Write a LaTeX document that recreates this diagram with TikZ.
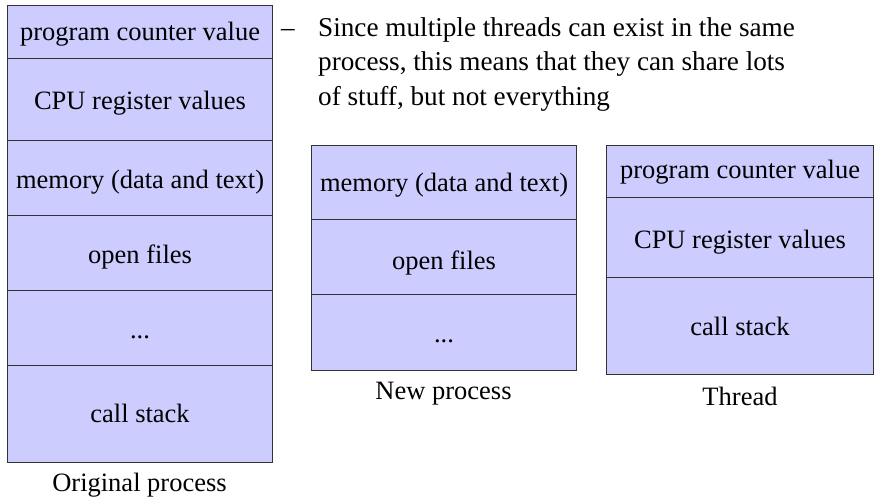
\documentclass[tikz,border=0pt]{standalone}
\usepackage{fontspec}
\setmainfont{Liberation Serif}
\definecolor{cellfill}{HTML}{CCCCFF}
\definecolor{cellline}{HTML}{333333}
\tikzset{
  cell/.style={draw=cellline, fill=cellfill, line width=1.1pt, anchor=north west, inner sep=0pt,
    font=\fontsize{26.5}{30}\selectfont, text height=20pt, text depth=4pt},
  caption/.style={inner sep=0pt, anchor=base, font=\fontsize{26.5}{30}\selectfont},
  bullettext/.style={inner sep=0pt, anchor=base west, font=\fontsize{27.2}{34}\selectfont}
}
\begin{document}
\begin{tikzpicture}[x=1pt,y=-1pt]
\useasboundingbox (0,0) rectangle (883,501);
% Original process
\node[cell, minimum width=265, minimum height=53, text height=21pt] (o1) at (7,5) {program counter value};
\node[cell, minimum width=265, minimum height=82, text height=24pt] (o2) at (7,58) {CPU register values};
\node[cell, minimum width=265, minimum height=75, text height=24pt] (o3) at (7,140) {memory (data and text)};
\node[cell, minimum width=265, minimum height=75, text height=24pt] (o4) at (7,215) {open files};
\node[cell, minimum width=265, minimum height=75, text height=24pt] (o5) at (7,290) {...};
\node[cell, minimum width=265, minimum height=97] (o6) at (7,365) {call stack};
\node[caption] (ol) at (139.5,491) {Original process};
% New process
\node[cell, minimum width=265, minimum height=74, text height=22pt] (n1) at (311,145) {memory (data and text)};
\node[cell, minimum width=265, minimum height=75, text height=28pt] (n2) at (311,219) {open files};
\node[cell, minimum width=265, minimum height=76, text height=24pt] (n3) at (311,294) {...};
\node[caption] (nl) at (443.5,399) {New process};
% Thread
\node[cell, minimum width=267, minimum height=52, text height=18pt] (t1) at (606,145) {program counter value};
\node[cell, minimum width=267, minimum height=80, text height=26pt] (t2) at (606,197) {CPU register values};
\node[cell, minimum width=267, minimum height=97, text height=22pt] (t3) at (606,277) {call stack};
\node[caption] (tl) at (740,405) {Thread};
% Bullet text
\node[bullettext] (dash) at (281,36) {–};
\node[bullettext] (b1) at (318,36) {Since multiple threads can exist in the same};
\node[bullettext] (b2) at (318,70.5) {process, this means that they can share lots};
\node[bullettext] (b3) at (318,105) {of stuff, but not everything};
\end{tikzpicture}
\end{document}
